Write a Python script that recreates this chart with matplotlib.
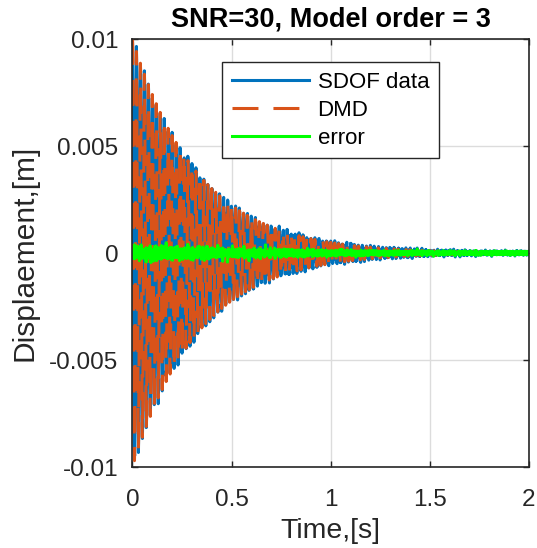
import numpy as np
import matplotlib
matplotlib.use("Agg")
import matplotlib.pyplot as plt

plt.rcParams['font.family'] = ['Liberation Sans', 'DejaVu Sans']

# ---- values ----
t_start, t_end, dt = 0.0, 2.0, 0.001          # time axis [s]
amp0 = 0.01                                   # initial displacement [m]
decay_rate = 3.0                              # envelope decay [1/s]
freq_hz = 50.0                                # oscillation frequency [Hz]

# error band half-width (read at these times)
err_knot_t = [0.0, 0.2, 0.4, 0.6, 0.8, 1.0, 1.3, 1.6, 2.0]
err_knot_amp = [0.00036, 0.00036, 0.0003, 0.00024, 0.0002, 0.00016, 0.00012, 0.0001, 0.0001]
# deterministic jitter components of the error signal
jit_freq = [137.3, 211.7, 293.1, 377.9, 461.3, 53.7, 89.1, 173.9, 331.7, 419.3]
jit_phase = [0.3, 1.7, 2.9, 4.1, 5.3, 0.9, 2.2, 3.6, 4.8, 0.1]
jit_weight = [0.30, 0.25, 0.22, 0.20, 0.18, 0.12, 0.10, 0.24, 0.21, 0.19]

title = "SNR=30, Model order = 3"
xlabel = "Time,[s]"
ylabel = "Displaement,[m]"
legend_labels = ["SDOF data", "DMD", "error"]
xticks = [0, 0.5, 1, 1.5, 2]
xtick_labels = ["0", "0.5", "1", "1.5", "2"]
yticks = [-0.01, -0.005, 0, 0.005, 0.01]
ytick_labels = ["-0.01", "-0.005", "0", "0.005", "0.01"]

# ---- build series ----
t = np.arange(t_start, t_end + dt / 2, dt)
dmd = amp0 * np.exp(-decay_rate * t) * np.cos(2 * np.pi * freq_hz * t)
jit = np.zeros_like(t)
for f, p, w in zip(jit_freq, jit_phase, jit_weight):
    jit += w * np.sin(2 * np.pi * f * t + p)
jit /= 2.2 * np.std(jit)
err = np.interp(t, err_knot_t, err_knot_amp) * jit
data = dmd + err

fig = plt.figure(figsize=(5.37, 5.48), dpi=100)
ax = fig.add_axes([0.2467, 0.1478, 0.7384, 0.781])

blue = '#0072BD'
orange = '#D95319'
green = '#00FF00'
dark = '#262626'

ax.plot(t, data, color=blue, lw=2.2, label=legend_labels[0])
ax.plot(t, dmd, color=orange, lw=2.2, linestyle=(0, (8.5, 4.9)), label=legend_labels[1])
ax.plot(t, err, color=green, lw=2.2, label=legend_labels[2])

ax.set_xlim(0, 2)
ax.set_ylim(-0.01, 0.01)
ax.set_xticks(xticks)
ax.set_xticklabels(xtick_labels)
ax.set_yticks(yticks)
ax.set_yticklabels(ytick_labels)
ax.tick_params(direction='in', top=True, right=True, labelsize=17.5, length=4,
               width=1, colors=dark)
ax.tick_params(axis='x', pad=16)
ax.tick_params(axis='y', pad=10)
for sp in ax.spines.values():
    sp.set_color(dark)
    sp.set_linewidth(1.2)
ax.grid(True, color='#DCDCDC', lw=1)
ax.set_axisbelow(True)

ax.set_title(title, fontsize=19.5, fontweight='bold', pad=9, color='black')
ax.set_xlabel(xlabel, fontsize=20.5, color=dark, labelpad=5)
ax.set_ylabel(ylabel, fontsize=21.5, color=dark, labelpad=8)

leg = ax.legend(loc='upper right', bbox_to_anchor=(0.773, 0.946), fontsize=16,
                handlelength=3.47, handletextpad=0.4, borderpad=0.44,
                labelspacing=0.31, fancybox=False, framealpha=1,
                edgecolor=dark, borderaxespad=0)
leg.get_frame().set_linewidth(1.0)

fig.savefig("out.png", dpi=100)
